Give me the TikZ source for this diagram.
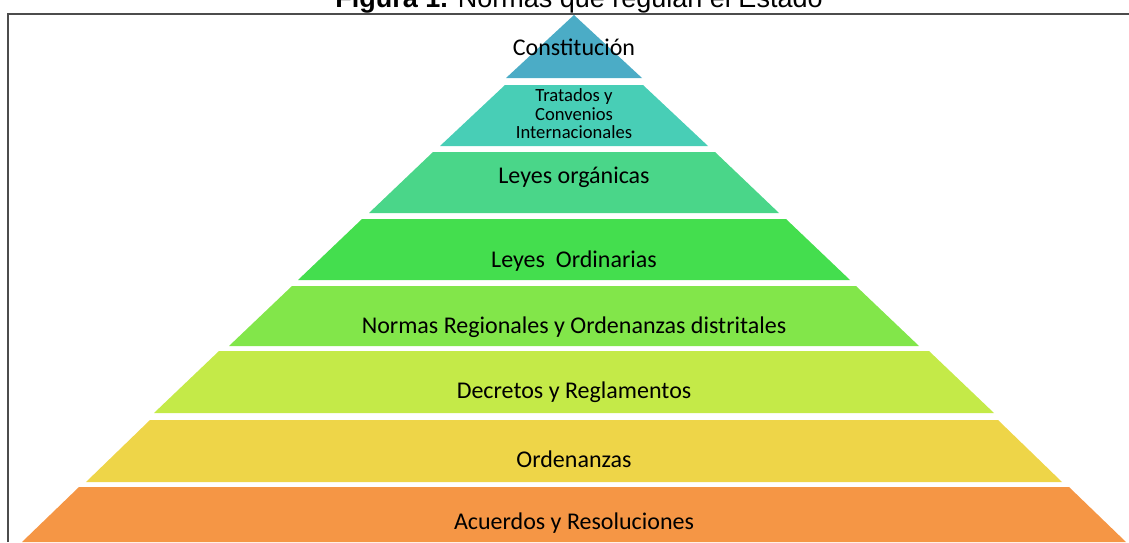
\documentclass[tikz,border=0pt]{standalone}
\usepackage{fontspec}
\setmainfont{Carlito}
\newfontfamily\titlefont{Liberation Sans}
\usepackage{xcolor}
\usepackage{tikz}

\definecolor{constcol}{RGB}{75,172,198}
\definecolor{tratcol}{RGB}{72,206,182}
\definecolor{organcol}{RGB}{74,214,137}
\definecolor{ordincol}{RGB}{68,222,78}
\definecolor{regcol}{RGB}{130,230,74}
\definecolor{decrcol}{RGB}{196,234,72}
\definecolor{ordzcol}{RGB}{238,213,72}
\definecolor{acuercol}{RGB}{245,150,69}

\begin{document}
\begin{tikzpicture}[
    x=1pt, y=-1pt,
    layer/.style={font=\fontsize{24}{25}\selectfont, align=center, text=black, inner sep=0pt},
    small/.style={font=\fontsize{18.6}{18.6}\selectfont, align=center, text=black, inner sep=0pt},
    frame/.style={draw=black!70, line width=1.5pt}
]
\useasboundingbox (0,0) rectangle (1129,542);

% marco de la figura
\draw[frame] (8,542) -- (8,14) -- (1129,14);

\node[anchor=base, inner sep=0pt, font=\titlefont\fontsize{27}{27}\selectfont] (title) at (579,7) {\textbf{Figura 1.} Normas que regulan el Estado};

% niveles de la piramide
\fill[constcol] (574,15) -- (642,78) -- (506,78) -- cycle;
\fill[tratcol] (505,85) -- (643,85) -- (708,146) -- (440,146) -- cycle;
\fill[organcol] (433,152) -- (715,152) -- (779,213) -- (369,213) -- cycle;
\fill[ordincol] (362,219) -- (786,219) -- (850,280) -- (298,280) -- cycle;
\fill[regcol] (292,286) -- (856,286) -- (919,346) -- (229,346) -- cycle;
\fill[decrcol] (219,351) -- (929,351) -- (994,413) -- (154,413) -- cycle;
\fill[ordzcol] (150,420) -- (998,420) -- (1062,482) -- (86,482) -- cycle;
\fill[acuercol] (79,487) -- (1069,487) -- (1126,542) -- (22,542) -- cycle;

% textos
\node[layer] (const) at (574,47) {Constitución};
\node[small] (trat) at (574,114) {Tratados y\\Convenios\\Internacionales};
\node[layer] (organ) at (574,177) {Leyes orgánicas};
\node[layer] (ordin) at (574,261) {Leyes\ \ Ordinarias};
\node[layer] (reg) at (574,327) {Normas Regionales y Ordenanzas distritales};
\node[layer] (decr) at (574,392) {Decretos y Reglamentos};
\node[layer] (ordz) at (574,459) {Ordenanzas};
\node[layer] (acuer) at (574,523) {Acuerdos y Resoluciones};

\end{tikzpicture}
\end{document}
